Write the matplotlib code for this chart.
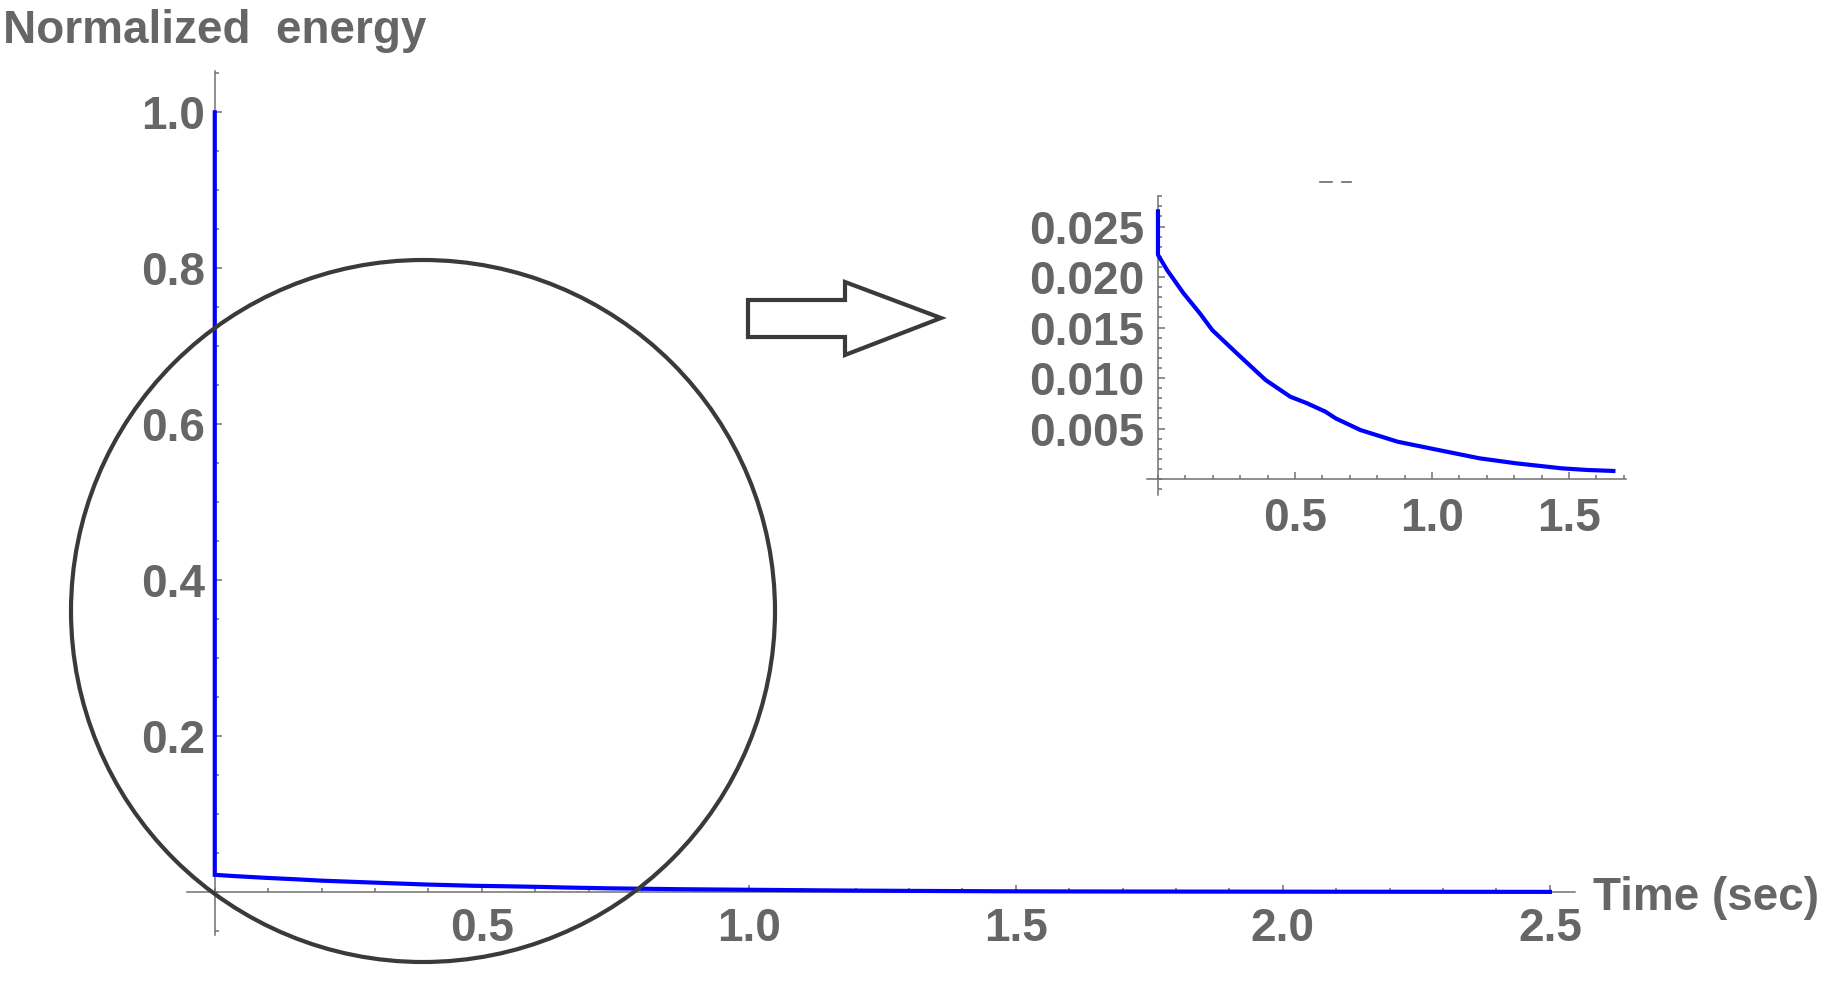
import matplotlib
matplotlib.use("Agg")
import matplotlib.pyplot as plt
from matplotlib.patches import Ellipse, Polygon
from matplotlib.lines import Line2D
from matplotlib.ticker import FixedLocator, MultipleLocator, FormatStrFormatter

# ---------------- data ----------------
time_sec = [0.0, 0.0, 0.0, 0.033, 0.093, 0.153, 0.198, 0.288, 0.393, 0.483,
            0.544, 0.611, 0.649, 0.739, 0.874, 1.024, 1.174, 1.309, 1.474,
            1.565, 1.662, 1.8, 2.0, 2.2, 2.5]
energy = [1.0, 0.0265, 0.0222, 0.0207, 0.0184, 0.0164, 0.01475, 0.01244,
          0.0098, 0.00815, 0.0075, 0.00667, 0.0060, 0.00485, 0.0037, 0.00287,
          0.00205, 0.00155, 0.00106, 0.0009, 0.0008, 0.0007, 0.00055,
          0.00045, 0.0003]
inset_end_time = 1.67

main_xticks = [0.5, 1.0, 1.5, 2.0, 2.5]
main_yticks = [0.2, 0.4, 0.6, 0.8, 1.0]
inset_xticks = [0.5, 1.0, 1.5]
inset_yticks = [0.005, 0.010, 0.015, 0.020, 0.025]

title_text = "Normalized  energy"
xlabel_text = "Time (sec)"

# ---------------- style ----------------
W, H = 1828, 983
fig = plt.figure(figsize=(W / 100, H / 100), dpi=100)
axis_col = "#707070"
text_col = "#666666"
dark = "#3a3a3a"
blue = "#0000ff"
main_font = ["Liberation Sans", "DejaVu Sans"]


def fx(px):
    return px / W


def fy(py):
    return 1 - py / H


def style_axes(a, fam, size, xpad, ypad):
    for s in ("top", "right"):
        a.spines[s].set_visible(False)
    a.spines["left"].set_position(("data", 0))
    a.spines["bottom"].set_position(("data", 0))
    for s in ("left", "bottom"):
        a.spines[s].set_color(axis_col)
        a.spines[s].set_linewidth(1.1)
    a.tick_params(which="both", direction="in", color=axis_col, width=1.1)
    a.tick_params(which="major", length=5)
    a.tick_params(which="minor", length=3)
    a.tick_params(axis="x", pad=xpad)
    a.tick_params(axis="y", pad=ypad)
    for lab in a.get_xticklabels() + a.get_yticklabels():
        lab.set_fontfamily(fam)
        lab.set_fontsize(size)
        lab.set_fontweight("bold")
        lab.set_color(text_col)
    a.patch.set_alpha(0)


# ---------------- main axes ----------------
ax = fig.add_axes([fx(187), fy(935), fx(1575) - fx(187), (935 - 71) / H])
ax.plot(time_sec, energy, color=blue, lw=3, solid_joinstyle="miter", zorder=3)
ax.set_xlim(-0.052, 2.547)
ax.set_ylim(-0.055, 1.053)
ax.xaxis.set_major_locator(FixedLocator(main_xticks))
ax.yaxis.set_major_locator(FixedLocator(main_yticks))
ax.xaxis.set_minor_locator(MultipleLocator(0.1))
ax.yaxis.set_minor_locator(MultipleLocator(0.05))
ax.xaxis.set_major_formatter(FormatStrFormatter("%.1f"))
ax.yaxis.set_major_formatter(FormatStrFormatter("%.1f"))
style_axes(ax, main_font, 33, 11, 7)

# ---------------- inset axes ----------------
ins_t = [t for t in time_sec[1:] if t <= inset_end_time]
ins_e = energy[1:1 + len(ins_t)]
axi = fig.add_axes([fx(1147), fy(495), (1626 - 1147) / W, (495 - 196) / H])
axi.plot(ins_t, ins_e, color=blue, lw=3, zorder=3)
axi.set_xlim(-0.04, 1.708)
axi.set_ylim(-0.00158, 0.02802)
axi.xaxis.set_major_locator(FixedLocator(inset_xticks))
axi.yaxis.set_major_locator(FixedLocator(inset_yticks))
axi.xaxis.set_minor_locator(MultipleLocator(0.1))
axi.yaxis.set_minor_locator(MultipleLocator(0.001))
axi.xaxis.set_major_formatter(FormatStrFormatter("%.1f"))
axi.yaxis.set_major_formatter(FormatStrFormatter("%.3f"))
style_axes(axi, main_font, 33, 13, 10)

# ---------------- texts ----------------
fig.text(fx(3), fy(43), title_text, fontsize=33, fontweight="bold",
         color=text_col, family=main_font, va="baseline", ha="left")
fig.text(fx(1593), fy(910), xlabel_text, fontsize=33, fontweight="bold",
         color=text_col, family=main_font, va="baseline", ha="left")

# ---------------- annotations ----------------
circle = Ellipse((fx(423), fy(611)), 704 / W, 702 / H, transform=fig.transFigure,
                 fill=False, ec=dark, lw=3, zorder=10)
fig.add_artist(circle)

arrow_px = [(748, 300), (845, 300), (845, 282), (941, 318), (845, 355),
            (845, 337), (748, 337)]
arrow = Polygon([(fx(x), fy(y)) for x, y in arrow_px], closed=True,
                transform=fig.transFigure, fc="white", ec=dark, lw=3,
                joinstyle="miter", zorder=10)
fig.add_artist(arrow)

for x0, x1 in [(1320, 1332), (1342, 1351)]:
    fig.add_artist(Line2D([fx(x0), fx(x1)], [fy(181.5), fy(181.5)],
                          transform=fig.transFigure, color="#6a6a6a", lw=1.2))

fig.savefig("out.png", dpi=100, facecolor="white")
